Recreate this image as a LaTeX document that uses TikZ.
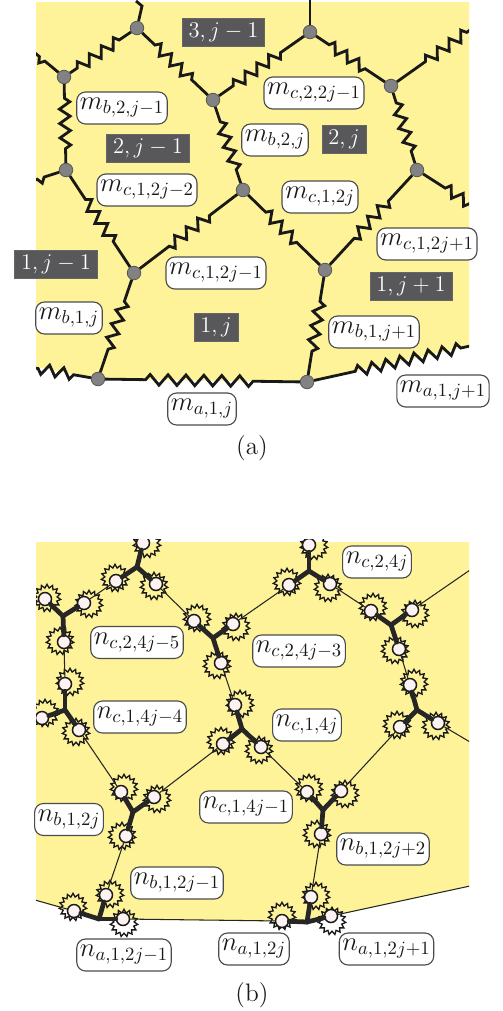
\documentclass[tikz,border=0pt]{standalone}
\usepackage{fix-cm}
\usepackage{amsmath}
\usetikzlibrary{shapes.geometric, decorations.pathmorphing}
\definecolor{panelyellow}{RGB}{254,243,152}
\definecolor{tagdark}{RGB}{88,88,90}
\definecolor{hubgray}{RGB}{130,130,132}
\definecolor{pinwhite}{RGB}{253,242,242}

\begin{document}
\begin{tikzpicture}[
    x=0.02cm, y=-0.02cm,
    hub/.style={circle, draw=black!65, fill=hubgray, line width=0.5pt, minimum size=0.27cm, inner sep=0pt},
    pin/.style={circle, draw=black!90, fill=pinwhite, line width=0.85pt, minimum size=0.26cm, inner sep=0pt},
    burst/.style={star, star points=15, star point ratio=1.35, draw=black!90, line width=0.75pt, minimum size=0.55cm, inner sep=0pt},
    spring/.style 2 args={line width=1.6pt, black!90, decorate, decoration={zigzag, segment length=8.2pt, amplitude=3pt, pre length=#1, post length=#2}},
    rod/.style={line width=1.6pt, black!90},
    arm/.style={line width=2.7pt, black!85, line cap=round},
    link/.style={line width=0.6pt, black!85},
    tag/.style={rectangle, draw=black!70, fill=white, rounded corners=5pt, line width=0.65pt, minimum height=0.64cm, inner xsep=1.8pt, inner ysep=1.5pt, text=black!90, font=\fontsize{15.2}{17}\selectfont},
    cell/.style={rectangle, draw=black!60, fill=tagdark, line width=0.4pt, minimum height=0.56cm, inner xsep=3.6pt, inner ysep=2pt, text=white, font=\fontsize{12.8}{16}\selectfont},
    caption/.style={font=\fontsize{14.4}{16}\selectfont, text=black!90}
]
    \useasboundingbox (0,0) rectangle (503,1011);

    % Panel (a): springs
    \begin{scope}
    \clip (36,0) rectangle (469,400);
    \fill[panelyellow] (36,2) -- (469,2) -- (469,346) -- (307,382) -- (98,379) -- (36,367) -- cycle;

    \node[hub] (va1) at (137,28) {};
    \node[hub] (va2) at (64,77) {};
    \node[hub] (va3) at (213,100) {};
    \node[hub] (va4) at (310,32) {};
    \node[hub] (va5) at (391,86) {};
    \node[hub] (va6) at (66,170) {};
    \node[hub] (va7) at (243,190) {};
    \node[hub] (va8) at (417,170) {};
    \node[hub] (va9) at (134,273) {};
    \node[hub] (va10) at (325,270) {};
    \node[hub] (va11) at (98,379) {};
    \node[hub] (va12) at (307,382) {};

    \coordinate (ea1) at (142,6);
    \coordinate (ea1b) at (136,1);
    \coordinate (ea2) at (35,53);
    \coordinate (ea4) at (310,0);
    \coordinate (ea5) at (470,30);
    \coordinate (ea6) at (35,180);
    \coordinate (ea8) at (470,204);
    \coordinate (ea11) at (35,368);
    \coordinate (ea12) at (470,346);

    \draw[rod] (va1) -- (ea1) -- (ea1b);
    \draw[rod] (va4) -- (ea4);
    \draw[spring={5pt}{5pt}] (va2) -- (va1);
    \draw[spring={10pt}{10pt}] (va1) -- (va3);
    \draw[spring={10pt}{14pt}] (va3) -- (va4);
    \draw[spring={9pt}{10pt}] (va4) -- (va5);
    \draw[spring={20pt}{0pt}] (va5) -- (ea5);
    \draw[spring={10pt}{0pt}] (va2) -- (ea2);
    \draw[spring={8pt}{8pt}] (va2) -- (va6);
    \draw[spring={9pt}{8pt}] (va3) -- (va7);
    \draw[spring={6pt}{6pt}] (va5) -- (va8);
    \draw[spring={9pt}{0pt}] (va6) -- (ea6);
    \draw[spring={16pt}{15pt}] (va6) -- (va9);
    \draw[spring={20pt}{19pt}] (va7) -- (va9);
    \draw[spring={14pt}{15pt}] (va7) -- (va10);
    \draw[spring={20pt}{19pt}] (va8) -- (va10);
    \draw[spring={15pt}{0pt}] (va8) -- (ea8);
    \draw[spring={13pt}{13pt}] (va9) -- (va11);
    \draw[spring={14pt}{13pt}] (va10) -- (va12);
    \draw[spring={23pt}{24pt}, decoration={segment length=10.2pt}] (va11) -- (va12);
    \draw[spring={10pt}{0pt}] (va11) -- (ea11);
    \draw[spring={24pt}{4pt}] (va12) -- (ea12);
    \end{scope}

    % Panel (a): cells
    \node[cell] (cell3a) at (223.5,32) {$3,j-1$};
    \node[cell] (cell2a) at (148,148) {$2,j-1$};
    \node[cell] (cell2b) at (344,139) {$2,j$};
    \node[cell] (cell1a) at (56,264) {$1,j-1$};
    \node[cell] (cell1b) at (216,327) {$1,j$};
    \node[cell] (cell1c) at (411,286) {$1,j+1$};

    % Panel (a): labels
    \node[tag] (mb2a) at (122,108) {$m_{b,2,j-1}$};
    \node[tag] (mc2a) at (314,93) {$m_{c,2,2j-1}$};
    \node[tag] (mb2b) at (275,140) {$m_{b,2,j}$};
    \node[tag] (mc1a) at (147,190) {$m_{c,1,2j-2}$};
    \node[tag] (mc1b) at (320,197) {$m_{c,1,2j}$};
    \node[tag] (mc1c) at (427,244) {$m_{c,1,2j+1}$};
    \node[tag] (mc1d) at (216,273) {$m_{c,1,2j-1}$};
    \node[tag] (mb1a) at (69,318) {$m_{b,1,j}$};
    \node[tag] (mb1b) at (374,332) {$m_{b,1,j+1}$};
    \node[tag] (ma1a) at (202,409) {$m_{a,1,j}$};
    \node[tag] (ma1b) at (443,391) {$m_{a,1,j+1}$};
    \node[caption] (capa) at (252,448) {(a)};

    % Panel (b): bursts
    \begin{scope}
    \clip (36,539) rectangle (469,950);
    \fill[panelyellow] (36,542) -- (469,542) -- (469,886) -- (307,922) -- (98,919) -- (36,901) -- cycle;

    \node[burst] (s1a) at (147,544) {};
    \node[burst] (s1b) at (115,578) {};
    \node[burst] (s1c) at (154,586) {};
    \node[burst] (s2a) at (47,598) {};
    \node[burst] (s2b) at (89,604) {};
    \node[burst] (s2c) at (60,641) {};
    \node[burst] (s3a) at (197,618) {};
    \node[burst] (s3b) at (236,627) {};
    \node[burst] (s3c) at (217,665) {};
    \node[burst] (s4a) at (314,546) {};
    \node[burst] (s4b) at (287,582) {};
    \node[burst] (s4c) at (328,588) {};
    \node[burst] (s5a) at (373,607) {};
    \node[burst] (s5b) at (415,614) {};
    \node[burst] (s5c) at (395,650) {};
    \node[burst] (s6a) at (70,682) {};
    \node[burst] (s6b) at (45,713) {};
    \node[burst] (s6c) at (76,732) {};
    \node[burst] (s7a) at (240,704) {};
    \node[burst] (s7b) at (221,741) {};
    \node[burst] (s7c) at (259,750) {};
    \node[burst] (s8a) at (414,683) {};
    \node[burst] (s8b) at (397,725) {};
    \node[burst] (s8c) at (436,726) {};
    \node[burst] (s9a) at (124,788) {};
    \node[burst] (s9b) at (157,799) {};
    \node[burst] (s9c) at (122,836) {};
    \node[burst] (s10a) at (309,788) {};
    \node[burst] (s10b) at (345,794) {};
    \node[burst] (s10c) at (317,834) {};
    \node[burst] (s11a) at (73,907) {};
    \node[burst] (s11b) at (110,894) {};
    \node[burst] (s11c) at (124,923) {};
    \node[burst] (s12a) at (282,916) {};
    \node[burst] (s12b) at (316,896) {};
    \node[burst] (s12c) at (332,921) {};

    % Panel (b): sites
    \coordinate (c1) at (137,567);
    \coordinate (c2) at (63,616);
    \coordinate (c3) at (213,638);
    \coordinate (c4) at (309,571);
    \coordinate (c5) at (391,625);
    \coordinate (c6) at (65,710);
    \coordinate (c7) at (242,729);
    \coordinate (c8) at (417,710);
    \coordinate (c9) at (133,812);
    \coordinate (c10) at (323,810);
    \coordinate (c11) at (99,919);
    \coordinate (c12) at (307,922);

    \node[pin] (p1a) at (143,543) {};
    \node[pin] (p1b) at (116,581) {};
    \node[pin] (p1c) at (156,584) {};
    \node[pin] (p2a) at (45,599) {};
    \node[pin] (p2b) at (84,603) {};
    \node[pin] (p2c) at (64,642) {};
    \node[pin] (p3a) at (194,621) {};
    \node[pin] (p3b) at (233,624) {};
    \node[pin] (p3c) at (221,663) {};
    \node[pin] (p4a) at (309,545) {};
    \node[pin] (p4b) at (289,585) {};
    \node[pin] (p4c) at (330,584) {};
    \node[pin] (p5a) at (371,611) {};
    \node[pin] (p5b) at (412,610) {};
    \node[pin] (p5c) at (399,649) {};
    \node[pin] (p6a) at (65,684) {};
    \node[pin] (p6b) at (42,718) {};
    \node[pin] (p6c) at (79,730) {};
    \node[pin] (p7a) at (235,705) {};
    \node[pin] (p7b) at (223,744) {};
    \node[pin] (p7c) at (261,747) {};
    \node[pin] (p8a) at (410,685) {};
    \node[pin] (p8b) at (400,727) {};
    \node[pin] (p8c) at (438,723) {};
    \node[pin] (p9a) at (121,792) {};
    \node[pin] (p9b) at (154,797) {};
    \node[pin] (p9c) at (126,836) {};
    \node[pin] (p10a) at (307,792) {};
    \node[pin] (p10b) at (341,791) {};
    \node[pin] (p10c) at (321,834) {};
    \node[pin] (p11a) at (74,911) {};
    \node[pin] (p11b) at (106,895) {};
    \node[pin] (p11c) at (123,919) {};
    \node[pin] (p12a) at (282,921) {};
    \node[pin] (p12b) at (311,897) {};
    \node[pin] (p12c) at (331,916) {};

    % Panel (b): thick arms
    \draw[arm] (c1) -- (p1a);
    \draw[arm] (c1) -- (p1b);
    \draw[arm] (c1) -- (p1c);
    \draw[arm] (c2) -- (p2a);
    \draw[arm] (c2) -- (p2b);
    \draw[arm] (c2) -- (p2c);
    \draw[arm] (c3) -- (p3a);
    \draw[arm] (c3) -- (p3b);
    \draw[arm] (c3) -- (p3c);
    \draw[arm] (c4) -- (p4a);
    \draw[arm] (c4) -- (p4b);
    \draw[arm] (c4) -- (p4c);
    \draw[arm] (c5) -- (p5a);
    \draw[arm] (c5) -- (p5b);
    \draw[arm] (c5) -- (p5c);
    \draw[arm] (c6) -- (p6a);
    \draw[arm] (c6) -- (p6b);
    \draw[arm] (c6) -- (p6c);
    \draw[arm] (c7) -- (p7a);
    \draw[arm] (c7) -- (p7b);
    \draw[arm] (c7) -- (p7c);
    \draw[arm] (c8) -- (p8a);
    \draw[arm] (c8) -- (p8b);
    \draw[arm] (c8) -- (p8c);
    \draw[arm] (c9) -- (p9a);
    \draw[arm] (c9) -- (p9b);
    \draw[arm] (c9) -- (p9c);
    \draw[arm] (c10) -- (p10a);
    \draw[arm] (c10) -- (p10b);
    \draw[arm] (c10) -- (p10c);
    \draw[arm] (c11) -- (p11a);
    \draw[arm] (c11) -- (p11b);
    \draw[arm] (c11) -- (p11c);
    \draw[arm] (c12) -- (p12a);
    \draw[arm] (c12) -- (p12b);
    \draw[arm] (c12) -- (p12c);

    % Panel (b): thin links
    \coordinate (e5) at (470,570);
    \coordinate (e8) at (470,742);
    \coordinate (e11) at (35,900);
    \coordinate (e12) at (470,886);
    \draw[link] (p1b) -- (p2b);
    \draw[link] (p1c) -- (p3a);
    \draw[link] (p2c) -- (p6a);
    \draw[link] (p3b) -- (p4b);
    \draw[link] (p3c) -- (p7a);
    \draw[link] (p4c) -- (p5a);
    \draw[link] (p5b) -- (e5);
    \draw[link] (p5c) -- (p8a);
    \draw[link] (p6c) -- (p9a);
    \draw[link] (p7b) -- (p9b);
    \draw[link] (p7c) -- (p10a);
    \draw[link] (p8b) -- (p10b);
    \draw[link] (p8c) -- (e8);
    \draw[link] (p9c) -- (p11b);
    \draw[link] (p10c) -- (p12b);
    \draw[link] (p11a) -- (e11);
    \draw[link] (p11c) -- (p12a);
    \draw[link] (p12c) -- (e12);
    \end{scope}

    % Panel (b): labels
    \node[tag] (nc2a) at (377,562) {$n_{c,2,4j}$};
    \node[tag] (nc2b) at (137,642.5) {$n_{c,2,4j-5}$};
    \node[tag] (nc2c) at (299,651) {$n_{c,2,4j-3}$};
    \node[tag] (nc1a) at (140,717) {$n_{c,1,4j-4}$};
    \node[tag] (nc1b) at (307,725) {$n_{c,1,4j}$};
    \node[tag] (nc1c) at (246,807) {$n_{c,1,4j-1}$};
    \node[tag] (nb1a) at (69,819.5) {$n_{b,1,2j}$};
    \node[tag] (nb1b) at (383,849) {$n_{b,1,2j+2}$};
    \node[tag] (nb1c) at (177,883) {$n_{b,1,2j-1}$};
    \node[tag] (na1a) at (124,955) {$n_{a,1,2j-1}$};
    \node[tag] (na1b) at (254,949) {$n_{a,1,2j}$};
    \node[tag] (na1c) at (386.5,949) {$n_{a,1,2j+1}$};
    \node[caption] (capb) at (252,995) {(b)};
\end{tikzpicture}
\end{document}
